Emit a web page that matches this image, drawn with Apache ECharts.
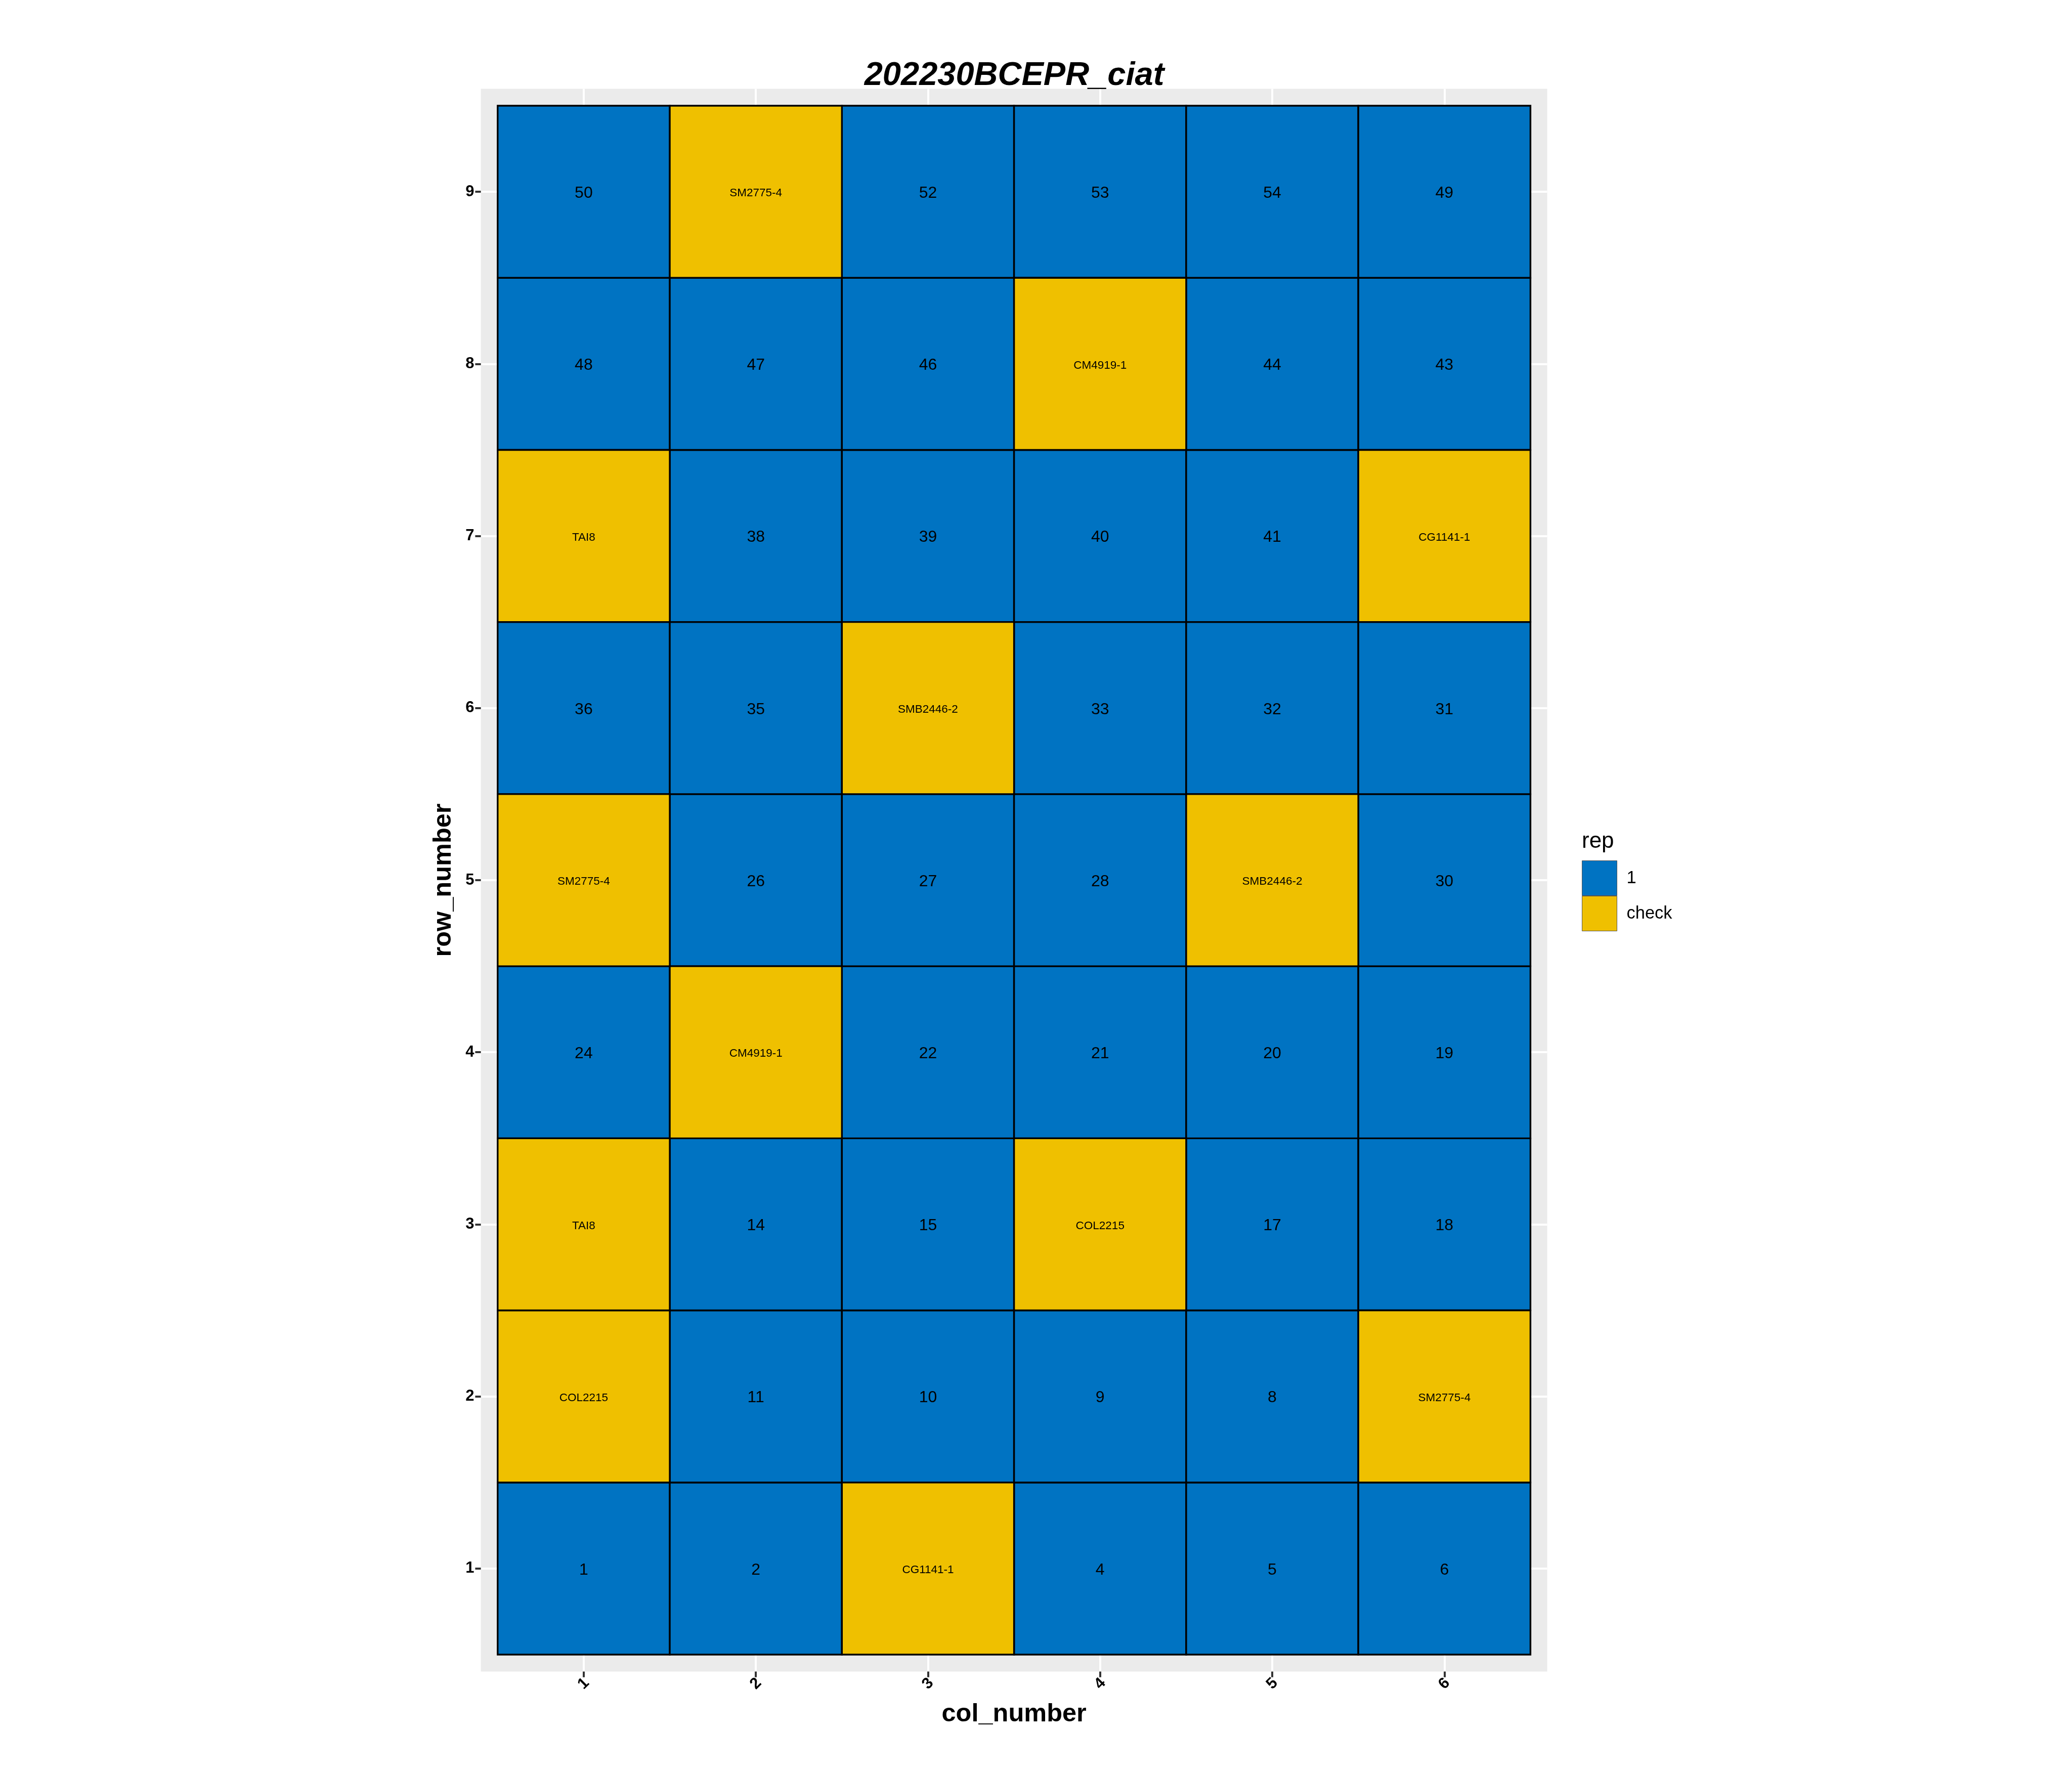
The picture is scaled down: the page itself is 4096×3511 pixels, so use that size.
<!DOCTYPE html>
<html>
<head>
<meta charset="utf-8">
<script src="https://cdn.jsdelivr.net/npm/echarts@6/dist/echarts.min.js"></script>
<style>
html,body{margin:0;padding:0;background:#fff;}
#chart{width:4096px;height:3511px;}
</style>
</head>
<body>
<div id="chart"></div>
<script>
// ---- data ----
const chartTitle = '202230BCEPR_ciat';
const colNumbers = [1, 2, 3, 4, 5, 6];
const rowNumbers = [1, 2, 3, 4, 5, 6, 7, 8, 9];
// tile labels, one array per row (row 1 first), columns 1..6
const labelsRow1 = ['1', '2', 'CG1141-1', '4', '5', '6'];
const labelsRow2 = ['COL2215', '11', '10', '9', '8', 'SM2775-4'];
const labelsRow3 = ['TAI8', '14', '15', 'COL2215', '17', '18'];
const labelsRow4 = ['24', 'CM4919-1', '22', '21', '20', '19'];
const labelsRow5 = ['SM2775-4', '26', '27', '28', 'SMB2446-2', '30'];
const labelsRow6 = ['36', '35', 'SMB2446-2', '33', '32', '31'];
const labelsRow7 = ['TAI8', '38', '39', '40', '41', 'CG1141-1'];
const labelsRow8 = ['48', '47', '46', 'CM4919-1', '44', '43'];
const labelsRow9 = ['50', 'SM2775-4', '52', '53', '54', '49'];
// rep of each tile, one array per row (row 1 first)
const repRow1 = ['1', '1', 'check', '1', '1', '1'];
const repRow2 = ['check', '1', '1', '1', '1', 'check'];
const repRow3 = ['check', '1', '1', 'check', '1', '1'];
const repRow4 = ['1', 'check', '1', '1', '1', '1'];
const repRow5 = ['check', '1', '1', '1', 'check', '1'];
const repRow6 = ['1', '1', 'check', '1', '1', '1'];
const repRow7 = ['check', '1', '1', '1', '1', 'check'];
const repRow8 = ['1', '1', '1', 'check', '1', '1'];
const repRow9 = ['1', 'check', '1', '1', '1', '1'];
const repLevels = ['1', 'check'];
const repColors = ['#0073C2', '#EFC000'];

// ---- build ----
const allLabels = [labelsRow1, labelsRow2, labelsRow3, labelsRow4, labelsRow5, labelsRow6, labelsRow7, labelsRow8, labelsRow9];
const allReps = [repRow1, repRow2, repRow3, repRow4, repRow5, repRow6, repRow7, repRow8, repRow9];
const seriesItems = repLevels.map(() => []);
rowNumbers.forEach((r, ri) => {
  colNumbers.forEach((c, ci) => {
    const rep = allReps[ri][ci];
    seriesItems[repLevels.indexOf(rep)].push([c, r, allLabels[ri][ci]]);
  });
});

const FONT = '"Liberation Sans", Arial, Helvetica, sans-serif';

function renderTile(params, api) {
  const item = seriesItems[params.seriesIndex][params.dataIndex];
  const x = api.value(0), y = api.value(1);
  const p0 = api.coord([x - 0.5, y + 0.5]);
  const p1 = api.coord([x + 0.5, y - 0.5]);
  const isNum = /^\d+$/.test(item[2]);
  return {
    type: 'rect',
    shape: { x: p0[0], y: p0[1], width: p1[0] - p0[0], height: p1[1] - p0[1] },
    style: { fill: api.visual('color'), stroke: '#000', lineWidth: 3.4 },
    textContent: {
      style: {
        text: item[2],
        fontFamily: FONT,
        fontSize: isNum ? 32 : 22.5,
        fill: '#000',
        align: 'center',
        verticalAlign: 'middle'
      }
    },
    textConfig: { position: 'inside', offset: [0, 3] }
  };
}

const chart = echarts.init(document.getElementById('chart'), null, { renderer: 'canvas' });
chart.setOption({
  animation: false,
  backgroundColor: '#ffffff',
  title: [
    {
      text: chartTitle,
      left: 2005,
      top: 118,
      padding: 0,
      textAlign: 'center',
      textStyle: { fontFamily: FONT, fontSize: 65, fontWeight: 'bold', fontStyle: 'italic', color: '#000' }
    },
    {
      text: 'rep',
      left: 3127,
      top: 1642,
      padding: 0,
      textStyle: { fontFamily: FONT, fontSize: 44, fontWeight: 'normal', color: '#000' }
    }
  ],
  legend: {
    orient: 'vertical',
    left: 3127,
    top: 1701,
    padding: 0,
    itemGap: 0,
    itemWidth: 69,
    itemHeight: 69,
    icon: 'rect',
    selectedMode: false,
    data: repLevels.map((name, i) => ({
      name: name,
      itemStyle: { color: repColors[i], borderColor: '#555', borderWidth: 1 }
    })),
    textStyle: { fontFamily: FONT, fontSize: 34.5, color: '#000', padding: [10, 0, 0, 14] }
  },
  grid: {
    left: 950.6,
    top: 175.5,
    width: 2108,
    height: 3129,
    show: true,
    backgroundColor: '#EBEBEB',
    borderWidth: 0,
    containLabel: false
  },
  xAxis: {
    type: 'value',
    min: 0.4025,
    max: 6.5975,
    name: 'col_number',
    nameLocation: 'middle',
    nameGap: 85,
    nameTextStyle: { fontFamily: FONT, fontSize: 50.5, fontWeight: 'bold', color: '#000', verticalAlign: 'middle' },
    axisLine: { show: false },
    axisTick: { show: true, length: 11.2, customValues: colNumbers, lineStyle: { color: '#333333', width: 4 } },
    axisLabel: {
      show: true,
      customValues: colNumbers,
      rotate: 45,
      align: 'center',
      verticalAlign: 'middle',
      margin: 24,
      fontFamily: FONT,
      fontSize: 31,
      fontWeight: 'bold',
      color: '#000',
      formatter: v => String(v)
    },
    splitLine: { show: true, lineStyle: { color: '#ffffff', width: 4 } }
  },
  yAxis: {
    type: 'value',
    min: 0.4015,
    max: 9.5985,
    name: 'row_number',
    nameLocation: 'middle',
    nameGap: 74,
    nameRotate: 90,
    nameTextStyle: { fontFamily: FONT, fontSize: 50.5, fontWeight: 'bold', color: '#000', verticalAlign: 'middle' },
    axisLine: { show: false },
    axisTick: { show: true, length: 11.2, customValues: rowNumbers, lineStyle: { color: '#333333', width: 4 } },
    axisLabel: {
      show: true,
      customValues: rowNumbers,
      margin: 13,
      padding: [5, 0, 0, 0],
      fontFamily: FONT,
      fontSize: 31,
      fontWeight: 'bold',
      color: '#000',
      formatter: v => String(v)
    },
    splitLine: { show: true, lineStyle: { color: '#ffffff', width: 4 } }
  },
  series: repLevels.map((name, i) => ({
    type: 'custom',
    name: name,
    coordinateSystem: 'cartesian2d',
    itemStyle: { color: repColors[i] },
    encode: { x: 0, y: 1 },
    data: seriesItems[i].map(d => [d[0], d[1]]),
    renderItem: renderTile
  }))
});
</script>
</body>
</html>
